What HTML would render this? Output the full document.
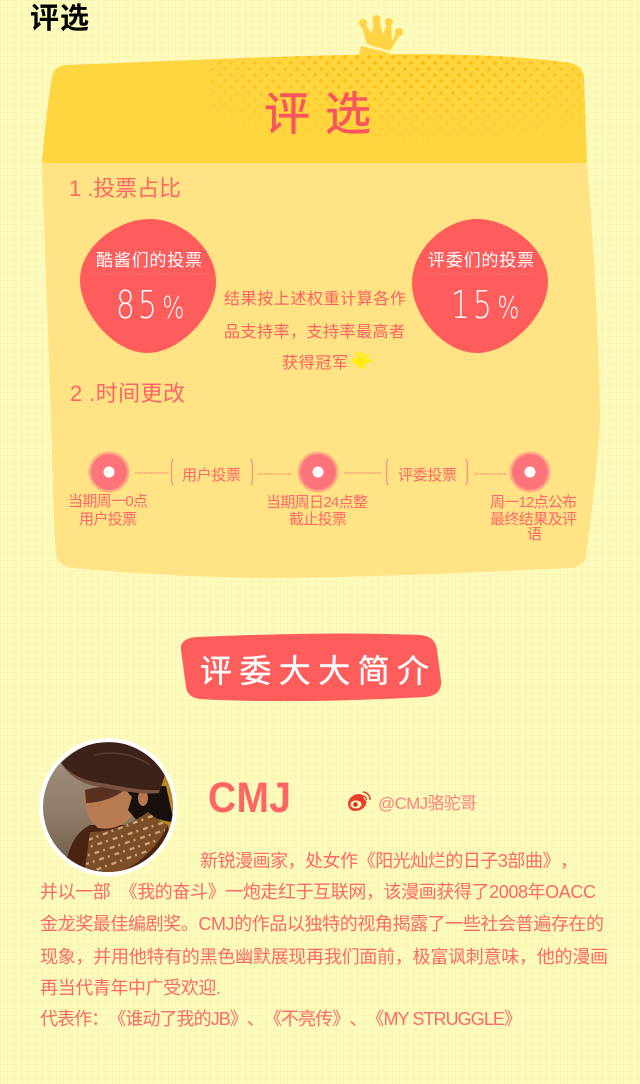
<!DOCTYPE html>
<html lang="zh-CN">
<head>
<meta charset="utf-8">
<title>评选</title>
<style>
html,body{margin:0;padding:0;background:#fdfbbb;}
body{width:640px;height:1084px;overflow:hidden;position:relative;}
#stage{position:absolute;left:0;top:0;display:block;}
text{font-family:"Liberation Sans","WenQuanYi Zen Hei","Noto Sans CJK SC",sans-serif;}
.para{font-size:18px;fill:#ff6868;font-family:"Liberation Sans","Noto Sans CJK SC",sans-serif;text-spacing-trim:space-all;}
.lab{font-size:15px;fill:#ff6868;}
.mid{font-size:16px;fill:#ff6060;}
.wt{font-size:17px;fill:#fff;}
.pct{font-size:38px;fill:#fff;font-weight:200;font-family:"DejaVu Sans",sans-serif;letter-spacing:4px;}
.sec{font-size:22px;fill:#ff6565;}
.dash{stroke:#ff7a70;stroke-width:1;stroke-dasharray:2 1;fill:none;}
.brace{stroke:#ff8a78;stroke-width:1.2;fill:none;}
.deco{font-family:"WenQuanYi Zen Hei","Noto Sans CJK SC",sans-serif;font-weight:400;}
</style>
</head>
<body>
<svg id="stage" width="640" height="1084" viewBox="0 0 640 1084" xmlns="http://www.w3.org/2000/svg">
<defs>
  <pattern id="grid" width="7" height="7" patternUnits="userSpaceOnUse">
    <path d="M7 0H0V7" fill="none" stroke="#f4f0a6" stroke-width="1" opacity=".75"/>
  </pattern>
  <pattern id="dots" width="12" height="12" patternUnits="userSpaceOnUse">
    <circle cx="3" cy="3" r="1.8" fill="#ffb400"/>
    <circle cx="9" cy="9" r="1.8" fill="#ffb400"/>
  </pattern>
  <radialGradient id="fade" cx="0.48" cy="0.1" r="0.75">
    <stop offset="0" stop-color="#fff" stop-opacity="1"/>
    <stop offset=".6" stop-color="#fff" stop-opacity=".5"/>
    <stop offset="1" stop-color="#fff" stop-opacity="0"/>
  </radialGradient>
  <mask id="dotmask"><rect x="210" y="40" width="420" height="130" fill="url(#fade)"/></mask>
  <clipPath id="headclip"><path d="M42 163 C45 125 49 95 52 78 C53 70 57 66 66 65 C200 60 300 55 400 54 C470 54 530 57 570 63 C579 65 584 70 584 78 L587 163 Z"/></clipPath>
  <clipPath id="photoclip"><circle cx="108" cy="807" r="65"/></clipPath>
  <clipPath id="scarfclip"><path d="M90 832 C110 832 130 825 148 812 C155 818 162 822 168 825 C160 842 148 855 135 864 C125 870 118 873 112 874 L85 868 Z"/></clipPath>
  <linearGradient id="wallgrad" x1="0" y1="0" x2="0" y2="1">
    <stop offset="0" stop-color="#a39382"/><stop offset=".55" stop-color="#8f7c68"/><stop offset="1" stop-color="#6e5a46"/>
  </linearGradient>
</defs>

<rect width="640" height="1084" fill="#fdfbbb"/>
<rect width="640" height="1084" fill="url(#grid)"/>

<text x="30" y="28" font-size="29" font-weight="700" fill="#000" textLength="59" style="font-family:'Liberation Sans','Noto Sans CJK SC',sans-serif">评选</text>

<g fill="#ffd344">
  <circle cx="363" cy="23" r="4"/><circle cx="376.500" cy="19" r="4"/><circle cx="389" cy="22" r="4"/><circle cx="399" cy="32" r="4"/>
  <path d="M361 24 L365 24 L372 34 L374 20 L379 20 L383 35 L387 23 L391 23 L392 42 L397 30 L401 33 L390 51 L367 44 Z"/>
  <path d="M361 46 L389 53 L388 60 L358 60 Z"/>
</g>

<path d="M42 163 L52 450 C53 490 54 530 56 553 C57 562 62 566 72 568 C140 574 210 578 280 578 C380 577 480 572 570 568 C580 567 585 563 586 556 C592 510 597 470 600 420 C599 340 594 250 587 163 Z" fill="#ffe384"/>
<path d="M42 163 C45 125 49 95 52 78 C53 70 57 66 66 65 C200 60 300 55 400 54 C470 54 530 57 570 63 C579 65 584 70 584 78 L587 163 Z" fill="#ffd640"/>
<g clip-path="url(#headclip)">
  <rect x="210" y="40" width="420" height="130" fill="url(#dots)" mask="url(#dotmask)"/>
</g>

<text x="264" y="130" font-size="46" class="deco" fill="#f9555f" stroke="#f9555f" stroke-width=".6" textLength="107">评选</text>

<text x="69" y="196" class="sec" textLength="112">1 .投票占比</text>

<g>
  <path d="M150 219 C183 219 216 249 216 282 C216 315 180 353 147 353 C114 353 80 313 80 280 C80 247 117 219 150 219 Z" fill="#ff5c5c"/>
  <text x="96" y="266" class="wt" textLength="106">酷酱们的投票</text>
  <line x1="90" y1="274" x2="206" y2="274" stroke="#ff8d88" stroke-dasharray="1.500 2"/>
  <text transform="translate(116 318) scale(.78 1)" class="pct">85<tspan dx="3" font-size="30">%</tspan></text>
</g>
<g>
  <path d="M477 219 C510 219 548 249 548 282 C548 315 510 353 477 353 C444 353 412 316 412 283 C412 250 444 219 477 219 Z" fill="#ff5c5c"/>
  <text x="428" y="266" class="wt" textLength="106">评委们的投票</text>
  <line x1="422" y1="274" x2="538" y2="274" stroke="#ff8d88" stroke-dasharray="1.500 2"/>
  <text transform="translate(451 318) scale(.78 1)" class="pct">15<tspan dx="3" font-size="30">%</tspan></text>
</g>

<text x="224" y="304" class="mid" textLength="182">结果按上述权重计算各作</text>
<text x="224" y="337" class="mid" textLength="181">品支持率，支持率最高者</text>
<text x="282" y="368" class="mid" textLength="66">获得冠军</text>
<g stroke="#ffee00" stroke-width="2.400" stroke-linecap="round" fill="#ffee00">
  <ellipse cx="360" cy="362" rx="5" ry="4" transform="rotate(25 360 362)" stroke="none"/>
  <line x1="360" y1="360" x2="357" y2="353"/>
  <line x1="362" y1="360" x2="362.500" y2="353"/>
  <line x1="364" y1="361" x2="368" y2="355"/>
  <line x1="365" y1="363" x2="371" y2="360"/>
  <line x1="356" y1="363" x2="353" y2="359"/>
  <line x1="358" y1="365" x2="364" y2="368"/>
</g>

<text x="70" y="401" class="sec" textLength="115">2 .时间更改</text>

<g>
  <g>
    <circle cx="109" cy="472" r="20.500" fill="#ffab85"/><circle cx="109" cy="472" r="18" fill="#ff737a"/><circle cx="109" cy="472" r="5.500" fill="#fff"/>
  </g>
  <g>
    <circle cx="318" cy="472" r="20.500" fill="#ffab85"/><circle cx="318" cy="472" r="18" fill="#ff737a"/><circle cx="318" cy="472" r="5.500" fill="#fff"/>
  </g>
  <g>
    <circle cx="530" cy="472" r="20.500" fill="#ffab85"/><circle cx="530" cy="472" r="18" fill="#ff737a"/><circle cx="530" cy="472" r="5.500" fill="#fff"/>
  </g>
  <line x1="135" y1="473" x2="167" y2="473" class="dash"/>
  <line x1="258" y1="474" x2="292" y2="474" class="dash"/>
  <line x1="344" y1="473" x2="381" y2="473" class="dash"/>
  <line x1="474" y1="474" x2="506" y2="474" class="dash"/>
  <path d="M173 459 C170 463 173 469 171 472 C173 476 170 481 173 485" class="brace"/>
  <path d="M251 459 C254 463 251 469 253 472 C251 476 254 481 251 485" class="brace"/>
  <path d="M388 459 C385 463 388 469 386 472 C388 476 385 481 388 485" class="brace"/>
  <path d="M466 459 C469 463 466 469 468 472 C466 476 469 481 466 485" class="brace"/>
  <text x="182" y="480" class="lab" textLength="59">用户投票</text>
  <text x="398" y="480" class="lab" textLength="59">评委投票</text>
  <text x="68" y="506" class="lab" textLength="80">当期周一0点</text>
  <text x="79" y="524" class="lab" textLength="58">用户投票</text>
  <text x="266" y="507" class="lab" textLength="102">当期周日24点整</text>
  <text x="289" y="524" class="lab" textLength="58">截止投票</text>
  <text x="490" y="507" class="lab" textLength="87">周一12点公布</text>
  <text x="490" y="524" class="lab" textLength="87">最终结果及评</text>
  <text x="527" y="539" class="lab">语</text>
</g>

<g>
  <path d="M181 650 C180 642 186 638 196 637 C270 634 350 632 420 635 C431 636 436 641 437 650 L441 680 C442 691 436 696 425 697 C350 701 270 703 200 699 C192 698 187 694 186 687 Z" fill="#ff5c5c"/>
  <text x="200" y="682" font-size="32" class="deco" fill="#fff" stroke="#fff" stroke-width=".4" textLength="229">评委大大简介</text>
</g>

<g>
  <circle cx="108" cy="807" r="69" fill="#fff"/>
  <g clip-path="url(#photoclip)">
    <rect x="43" y="742" width="130" height="130" fill="url(#wallgrad)"/>
    <rect x="150" y="770" width="25" height="60" fill="#b98a22"/>
    <path d="M68 855 C72 840 80 830 90 825 L168 825 L175 875 L60 875 Z" fill="#4a2412"/>
    <path d="M86 790 L83 798 L86 806 L87 813 L92 822 L98 828 C110 830 120 827 128 820 L146 804 L140 786 Z" fill="#b87a50"/>
    <path d="M85 790 C100 786 115 786 126 788 C118 797 100 803 86 803 Z" fill="#5a3020"/>
    <path d="M122 786 L166 786 L174 822 C165 822 155 818 146 815 L138 822 L128 810 L132 797 Z" fill="#17100e"/>
    <ellipse cx="143" cy="798" rx="5" ry="8" fill="#b8784e"/>
    <path d="M61 763 C75 750 85 745 98 743 C115 741 130 743 140 746 C152 752 162 766 165 775 L160 790 C140 792 120 786 100 783 C85 781 70 775 61 763 Z" fill="#3c2219"/>
    <path d="M61 763 C70 775 85 781 100 783 C120 786 140 791 160 790 L159 793 C140 795 118 790 100 787 C85 785 70 778 61 763 Z" fill="#7b5340"/>
    <path d="M95 755 C115 750 135 755 150 765" stroke="#5f3a2a" stroke-width="1.500" fill="none"/>
    <path d="M90 832 C110 832 130 825 148 812 C155 818 162 822 168 825 C160 842 148 855 135 864 C125 870 118 873 112 874 L85 868 Z" fill="#7d4f28"/>
    <g clip-path="url(#scarfclip)" stroke="#cfa274" stroke-width="2.400" stroke-dasharray="5 4 2 5" fill="none">
      <path d="M88 840 L155 815"/>
      <path d="M86 848 L165 822" stroke-dashoffset="4"/>
      <path d="M86 856 L165 830" stroke-dashoffset="7"/>
      <path d="M86 864 L158 840" stroke-dashoffset="2"/>
      <path d="M90 872 L150 850" stroke-dashoffset="9"/>
    </g>
  </g>
</g>

<text x="208" y="810" font-size="39" font-weight="700" fill="#ff6565" textLength="83" transform="translate(0 -71) scale(1 1.09)">CMJ</text>

<g fill="none">
  <path d="M348 804 C348 799 353 794 359 794 C363 794 364 797 364 799 C366 800 367 802 366 804 C365 808 360 811 355 811 C351 811 348 808 348 804 Z" fill="#e8402c"/>
  <ellipse cx="356" cy="804.500" rx="5.500" ry="4" fill="#fdfbbb"/>
  <circle cx="355.500" cy="804.500" r="2.300" fill="#c93020"/>
  <path d="M363 792 A7.500 7.500 0 0 1 370 800" stroke="#e8402c" stroke-width="1.500"/>
  <path d="M363 796 A4 4 0 0 1 366.500 800" stroke="#e8402c" stroke-width="1.400"/>
</g>
<text x="378" y="809" font-size="17" fill="#ff8080" textLength="99">@CMJ骆驼哥</text>

<g>
  <text x="200" y="867" class="para" textLength="378">新锐漫画家，处女作《阳光灿烂的日子3部曲》，</text>
  <text x="40" y="898" class="para" textLength="556">并以一部&#160;&#160;《我的奋斗》一炮走红于互联网，该漫画获得了2008年OACC</text>
  <text x="40" y="930" class="para" textLength="564">金龙奖最佳编剧奖。CMJ的作品以独特的视角揭露了一些社会普遍存在的</text>
  <text x="40" y="963" class="para" textLength="568">现象，并用他特有的黑色幽默展现再我们面前，极富讽刺意味，他的漫画</text>
  <text x="40" y="994" class="para" textLength="181">再当代青年中广受欢迎.</text>
  <text x="40" y="1025" class="para" textLength="482">代表作：《谁动了我的JB》、《不亮传》、《MY STRUGGLE》</text>
</g>
</svg>
</body>
</html>
